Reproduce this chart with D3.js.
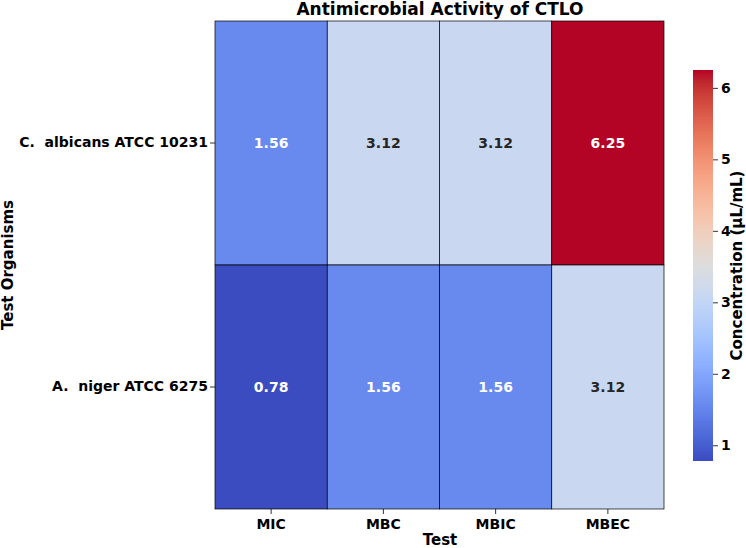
<!DOCTYPE html>
<html>
	<head>
		<meta http-equiv="Content-Type" content="text/html;charset=utf-8"/>
		<title>Antimicrobial Activity of CTLO</title>
		<script src="https://d3js.org/d3.v7.min.js"></script>
		<style type="text/css">
			body { margin: 0; background: #fff; }
			svg { font-family: "DejaVu Sans", sans-serif; font-weight: bold; }
			.cell { stroke: #000; stroke-width: 0.7; }
			.axis path { display: none; }
			.axis line { stroke: #000; stroke-width: 0.8; }
			.axis text { fill: #000; font-family: "DejaVu Sans", sans-serif; font-weight: bold; }
		</style>
	</head>
	<body>
		<script type="text/javascript">

			//Chart data
			var organisms = ["C.  albicans ATCC 10231", "A.  niger ATCC 6275"];
			var tests = ["MIC", "MBC", "MBIC", "MBEC"];
			var albicansValues = [1.56, 3.12, 3.12, 6.25];
			var nigerValues = [0.78, 1.56, 1.56, 3.12];
			var colorbarTicks = [1, 2, 3, 4, 5, 6];

			//matplotlib "coolwarm" colormap samples
			var coolwarm = [
				[59,76,192],[68,90,204],[77,104,215],[87,117,225],[98,130,234],[108,142,241],
				[119,154,247],[130,165,251],[141,176,254],[152,185,255],[163,194,255],[174,201,253],
				[184,208,249],[194,213,244],[204,217,238],[213,219,230],[221,221,221],[229,216,209],
				[236,211,197],[241,204,185],[245,196,173],[247,187,160],[247,177,148],[247,166,135],
				[244,154,123],[241,141,111],[236,127,99],[229,112,88],[222,96,77],[213,80,66],
				[203,62,56],[192,40,47],[180,4,38]
			];

			var rows = [albicansValues, nigerValues];
			var cells = [];
			rows.forEach(function(vals, r) {
				vals.forEach(function(v, c) {
					cells.push({ org: organisms[r], test: tests[c], value: v });
				});
			});

			var w = 746, h = 548;
			var vmin = d3.min(cells, function(d) { return d.value; }),
				vmax = d3.max(cells, function(d) { return d.value; });

			var cmap = d3.scaleLinear()
				.domain(d3.range(coolwarm.length).map(function(i) { return i / (coolwarm.length - 1); }))
				.range(coolwarm.map(function(c) { return d3.rgb(c[0], c[1], c[2]); }))
				.interpolate(d3.interpolateRgb);
			var norm = d3.scaleLinear().domain([vmin, vmax]).range([0, 1]).clamp(true);
			function color(v) { return cmap(norm(v)); }

			//Scales
			var x = d3.scaleBand().domain(tests).range([215, 664]);
			var y = d3.scaleBand().domain(organisms).range([21, 509]);

			var svg = d3.select("body").append("svg")
				.attr("width", w)
				.attr("height", h);

			//Cells
			svg.selectAll("rect.cell")
				.data(cells)
				.enter()
				.append("rect")
				.attr("class", "cell")
				.attr("x", function(d) { return x(d.test); })
				.attr("y", function(d) { return y(d.org); })
				.attr("width", x.bandwidth())
				.attr("height", y.bandwidth())
				.attr("fill", function(d) { return color(d.value); });

			//Annotations
			function lum(c) {
				var rgb = d3.rgb(c);
				var f = function(v) { v /= 255; return v <= 0.03928 ? v / 12.92 : Math.pow((v + 0.055) / 1.055, 2.4); };
				return 0.2126 * f(rgb.r) + 0.7152 * f(rgb.g) + 0.0722 * f(rgb.b);
			}
			svg.selectAll("text.annot")
				.data(cells)
				.enter()
				.append("text")
				.attr("class", "annot")
				.attr("x", function(d) { return x(d.test) + x.bandwidth() / 2; })
				.attr("y", function(d) { return y(d.org) + y.bandwidth() / 2; })
				.attr("dy", "0.36em")
				.attr("text-anchor", "middle")
				.style("font-size", "14px")
				.attr("fill", function(d) { return lum(color(d.value)) > 0.408 ? "#262626" : "#ffffff"; })
				.text(function(d) { return d.value.toFixed(2); });

			//Axes
			var xAxis = svg.append("g")
				.attr("class", "axis")
				.attr("transform", "translate(0,509)")
				.call(d3.axisBottom(x).tickSize(5).tickPadding(5));
			xAxis.selectAll("text").style("font-size", "14px");

			var yAxis = svg.append("g")
				.attr("class", "axis")
				.attr("transform", "translate(215,0)")
				.call(d3.axisLeft(y).tickSize(5).tickPadding(2));
			yAxis.selectAll("text").style("font-size", "14px").style("white-space", "pre").attr("xml:space", "preserve");

			//Title and labels
			svg.append("text")
				.attr("x", 440).attr("y", 15)
				.attr("text-anchor", "middle")
				.style("font-size", "17px")
				.text("Antimicrobial Activity of CTLO");

			svg.append("text")
				.attr("x", 440).attr("y", 545)
				.attr("text-anchor", "middle")
				.style("font-size", "15px")
				.text("Test");

			svg.append("text")
				.attr("transform", "translate(13,265) rotate(-90)")
				.attr("text-anchor", "middle")
				.style("font-size", "15px")
				.text("Test Organisms");

			//Colorbar
			var cbX = 693, cbW = 20, cbTop = 70, cbBottom = 461;
			var cbScale = d3.scaleLinear().domain([vmin, vmax]).range([cbBottom, cbTop]);

			var grad = svg.append("defs").append("linearGradient")
				.attr("id", "cbgrad")
				.attr("x1", "0").attr("y1", "1")
				.attr("x2", "0").attr("y2", "0");
			grad.selectAll("stop")
				.data(coolwarm)
				.enter()
				.append("stop")
				.attr("offset", function(d, i) { return i / (coolwarm.length - 1); })
				.attr("stop-color", function(d) { return d3.rgb(d[0], d[1], d[2]); });

			svg.append("rect")
				.attr("x", cbX).attr("y", cbTop)
				.attr("width", cbW).attr("height", cbBottom - cbTop)
				.attr("fill", "url(#cbgrad)");

			var cbAxis = svg.append("g")
				.attr("class", "axis")
				.attr("transform", "translate(" + (cbX + cbW) + ",0)")
				.call(d3.axisRight(cbScale).tickValues(colorbarTicks).tickFormat(d3.format("d")).tickSize(5).tickPadding(3));
			cbAxis.selectAll("text").style("font-size", "14px");

			svg.append("text")
				.attr("transform", "translate(742," + ((cbTop + cbBottom) / 2) + ") rotate(-90)")
				.attr("text-anchor", "middle")
				.style("font-size", "15px")
				.text("Concentration (µL/mL)");

		</script>
	</body>
</html>
